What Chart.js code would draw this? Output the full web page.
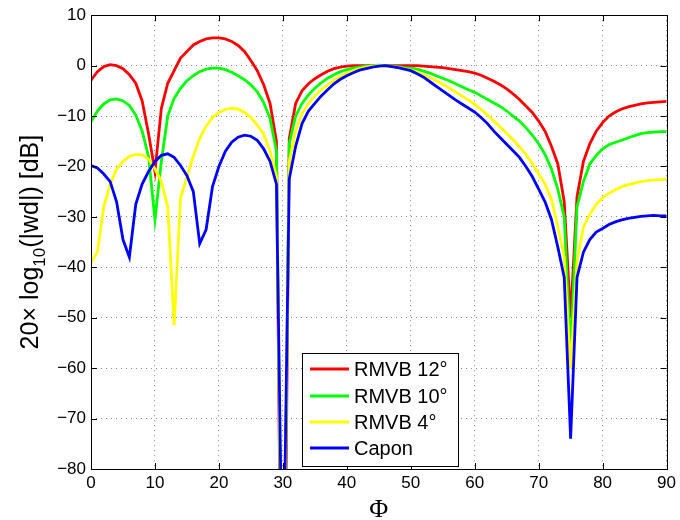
<!DOCTYPE html>
<html>
<head>
<meta charset="utf-8">
<script src="https://cdn.jsdelivr.net/npm/chart.js@4/dist/chart.umd.min.js"></script>
<style>
  body { margin: 0; background: #fff; }
  canvas { display: block; }
</style>
</head>
<body>
<canvas id="beam" width="680" height="520"></canvas>
<script>
// angle axis (degrees)
const phi = [0, 1, 2, 3, 4, 5, 6, 7, 8, 9, 10, 11, 12, 13, 14, 15, 16, 17, 18, 19,
  20, 21, 22, 23, 24, 25, 26, 27, 28, 29, 30, 31, 32, 33, 34, 35, 36, 37, 38, 39,
  40, 41, 42, 43, 44, 45, 46, 47, 48, 49, 50, 51, 52, 53, 54, 55, 56, 57, 58, 59,
  60, 61, 62, 63, 64, 65, 66, 67, 68, 69, 70, 71, 72, 73, 74, 75, 76, 77, 78, 79,
  80, 81, 82, 83, 84, 85, 86, 87, 88, 89, 90];

const seriesLabels = ['RMVB 12°', 'RMVB 10°', 'RMVB 4°', 'Capon'];

const rmvb12 = [-2.9, -1.2, -0.2, 0.2, 0.0, -0.6, -1.8, -3.5, -7.0, -13.5,
  -21.0, -8.5, -3.5, -1.0, 1.5, 2.8, 4.1, 4.8, 5.3, 5.5,
  5.5, 5.3, 4.8, 4.0, 2.8, 1.0, -1.0, -3.8, -7.5, -15.0,
  -150, -14.5, -7.5, -5.0, -3.6, -2.6, -1.8, -1.1, -0.6, -0.3,
  -0.1, 0, 0, 0, 0, 0, 0, 0, 0, 0,
  0, 0, -0.1, -0.2, -0.3, -0.4, -0.6, -0.8, -1.0, -1.2,
  -1.5, -1.9, -2.5, -3.1, -3.8, -4.6, -5.6, -6.7, -8.0, -9.3,
  -11.0, -13.0, -16.0, -19.5, -27.0, -50.0, -26.0, -19.0, -15.5, -13.0,
  -11.3, -10.0, -9.2, -8.6, -8.2, -7.9, -7.6, -7.4, -7.3, -7.2, -7.1];

const rmvb10 = [-11.1, -9.0, -7.6, -6.8, -6.6, -7.0, -7.9, -9.8, -13.0, -18.0,
  -30.5, -19.0, -10.0, -6.5, -4.5, -3.0, -2.0, -1.2, -0.7, -0.5,
  -0.5, -0.8, -1.3, -2.0, -2.8, -3.8, -5.2, -7.3, -10.5, -17.0,
  -130, -15.5, -10.0, -7.5, -5.8, -4.5, -3.4, -2.5, -1.8, -1.2,
  -0.8, -0.5, -0.3, -0.1, 0, 0.1, 0, -0.1, -0.2, -0.4,
  -0.5, -0.7, -1.1, -1.5, -2.0, -2.5, -3.0, -3.6, -4.2, -4.8,
  -5.3, -6.0, -6.7, -7.4, -8.1, -9.0, -10.0, -11.0, -12.3, -13.8,
  -15.5, -17.6, -20.5, -24.5, -30.0, -57.0, -28.0, -23.0, -19.5, -17.8,
  -16.5, -15.7, -15.2, -14.8, -14.3, -13.9, -13.5, -13.3, -13.2, -13.1, -13.1];

const rmvb4 = [-39.0, -37.0, -28.0, -23.5, -20.5, -19.0, -18.0, -17.6, -17.7, -18.5,
  -20.5, -23.0, -28.0, -51.5, -26.3, -22.0, -18.0, -14.4, -12.0, -10.3,
  -9.3, -8.7, -8.5, -8.6, -9.3, -10.3, -11.8, -13.5, -17.0, -22.0,
  -120, -19.0, -13.0, -9.5, -7.5, -6.0, -4.8, -3.8, -2.9, -2.1,
  -1.5, -1.0, -0.6, -0.3, -0.1, 0, -0.1, -0.2, -0.4, -0.6,
  -0.9, -1.3, -1.8, -2.4, -3.0, -3.7, -4.4, -5.2, -6.0, -6.8,
  -7.7, -8.7, -9.8, -11.0, -12.2, -13.4, -14.7, -16.1, -17.6, -19.4,
  -21.5, -23.5, -26.5, -32.0, -38.0, -60.0, -39.0, -32.0, -29.5, -27.5,
  -26.2, -25.3, -24.6, -24.0, -23.6, -23.3, -23.0, -22.8, -22.7, -22.6, -22.5];

const capon = [-19.8, -20.3, -21.5, -23.0, -27.0, -34.5, -38.0, -27.5, -23.5, -21.0,
  -19.0, -17.8, -17.5, -18.2, -19.8, -21.8, -25.0, -35.3, -32.5, -24.0,
  -20.0, -17.0, -15.2, -14.2, -13.8, -14.0, -14.8, -16.5, -19.0, -23.5,
  -110, -22.5, -16.0, -11.5, -9.0, -7.5, -6.0, -4.8, -3.6, -2.7,
  -2.0, -1.4, -0.9, -0.6, -0.3, -0.1, 0, -0.2, -0.4, -0.7,
  -1.0, -1.6, -2.3, -3.2, -4.1, -5.0, -5.9, -6.8, -7.6, -8.4,
  -9.2, -10.3, -11.5, -13.0, -14.3, -15.6, -16.9, -18.2, -20.0, -22.0,
  -24.5, -27.0, -30.5, -36.0, -42.0, -74.0, -42.0, -37.0, -34.5, -33.0,
  -32.3, -31.5, -31.0, -30.6, -30.3, -30.1, -29.9, -29.8, -29.7, -29.8, -29.8];

const xTicks = [0, 10, 20, 30, 40, 50, 60, 70, 80, 90];
const yTicks = [-80, -70, -60, -50, -40, -30, -20, -10, 0, 10];

const seriesColors = ['#ff0000', '#00ff00', '#ffff00', '#0000ff'];
const allSeries = [rmvb12, rmvb10, rmvb4, capon];

const tickFont = { family: "'Liberation Sans', Arial, sans-serif", size: 17 };

function minusLabel(v) {
    return v < 0 ? '\u2212' + Math.abs(v) : String(v);
}

// box, inward ticks, legend and axis titles in MATLAB style
const matlabFrame = {
    id: 'matlabFrame',
    afterDraw(chart) {
        const { ctx, chartArea: a, scales } = chart;
        ctx.save();
        ctx.strokeStyle = '#000';
        ctx.lineWidth = 1;
        ctx.strokeRect(Math.round(a.left) + 0.5, Math.round(a.top) + 0.5,
            Math.round(a.right - a.left), Math.round(a.bottom - a.top));

        ctx.beginPath();
        xTicks.forEach(t => {
            const px = Math.round(scales.x.getPixelForValue(t)) + 0.5;
            ctx.moveTo(px, a.bottom); ctx.lineTo(px, a.bottom - 6);
            ctx.moveTo(px, a.top); ctx.lineTo(px, a.top + 6);
        });
        yTicks.forEach(t => {
            const py = Math.round(scales.y.getPixelForValue(t)) + 0.5;
            ctx.moveTo(a.left, py); ctx.lineTo(a.left + 6, py);
            ctx.moveTo(a.right, py); ctx.lineTo(a.right - 6, py);
        });
        ctx.stroke();

        // legend
        const lx = 302, ly = 353, lw = 156, lh = 113;
        ctx.fillStyle = '#fff';
        ctx.fillRect(lx, ly, lw, lh);
        ctx.strokeRect(lx + 0.5, ly + 0.5, lw, lh);
        const rows = [369, 396, 422, 448];
        ctx.font = "20px 'Liberation Sans', Arial, sans-serif";
        ctx.textBaseline = 'middle';
        ctx.textAlign = 'left';
        seriesLabels.forEach((lab, i) => {
            ctx.strokeStyle = seriesColors[i];
            ctx.lineWidth = 3;
            ctx.beginPath();
            ctx.moveTo(310, rows[i]);
            ctx.lineTo(349, rows[i]);
            ctx.stroke();
            ctx.fillStyle = '#000';
            ctx.fillText(lab, 354, rows[i] + 1);
        });

        // x title
        ctx.font = "26px 'Liberation Serif', 'Times New Roman', serif";
        ctx.textAlign = 'center';
        ctx.textBaseline = 'alphabetic';
        ctx.fillText('\u03A6', (a.left + a.right) / 2, 517);

        // y title with subscript
        const big = "25px 'Liberation Sans', Arial, sans-serif";
        const small = "17px 'Liberation Sans', Arial, sans-serif";
        const parts = [['20\u00D7 log', big, 0], ['10', small, 7], ['(|wd|) [dB]', big, 0]];
        let total = 0;
        parts.forEach(p => { ctx.font = p[1]; total += ctx.measureText(p[0]).width; });
        ctx.translate(38, (a.top + a.bottom) / 2);
        ctx.rotate(-Math.PI / 2);
        ctx.textAlign = 'left';
        let cx = -total / 2;
        parts.forEach(p => {
            ctx.font = p[1];
            ctx.fillText(p[0], cx, p[2]);
            cx += ctx.measureText(p[0]).width;
        });
        ctx.restore();
    }
};

const datasets = allSeries.map((vals, i) => ({
    label: seriesLabels[i],
    data: phi.map((p, k) => ({ x: p, y: vals[k] })),
    borderColor: seriesColors[i],
    borderWidth: 2.8,
    pointRadius: 0,
    tension: 0,
    fill: false,
    order: allSeries.length - i
}));

new Chart(document.getElementById('beam').getContext('2d'), {
    type: 'line',
    data: { datasets: datasets },
    options: {
        responsive: false,
        animation: false,
        layout: { padding: { left: 0, top: 13, right: 9, bottom: 0 } },
        plugins: { legend: { display: false }, tooltip: { enabled: false } },
        scales: {
            x: {
                type: 'linear',
                min: 0,
                max: 90,
                afterFit: s => { s.height = 51; },
                afterBuildTicks: s => { s.ticks = xTicks.map(v => ({ value: v })); },
                ticks: { color: '#000', font: tickFont, padding: 4, maxRotation: 0, callback: v => String(v) },
                grid: { color: '#888', lineWidth: 1, drawTicks: false },
                border: { display: false, dash: [1, 4] }
            },
            y: {
                min: -80,
                max: 10,
                afterFit: s => { s.width = 91; },
                afterBuildTicks: s => { s.ticks = yTicks.map(v => ({ value: v })); },
                ticks: { color: '#000', font: tickFont, padding: 5, callback: v => minusLabel(v) },
                grid: { color: '#888', lineWidth: 1, drawTicks: false },
                border: { display: false, dash: [1, 4] }
            }
        }
    },
    plugins: [matlabFrame]
});
</script>
</body>
</html>
